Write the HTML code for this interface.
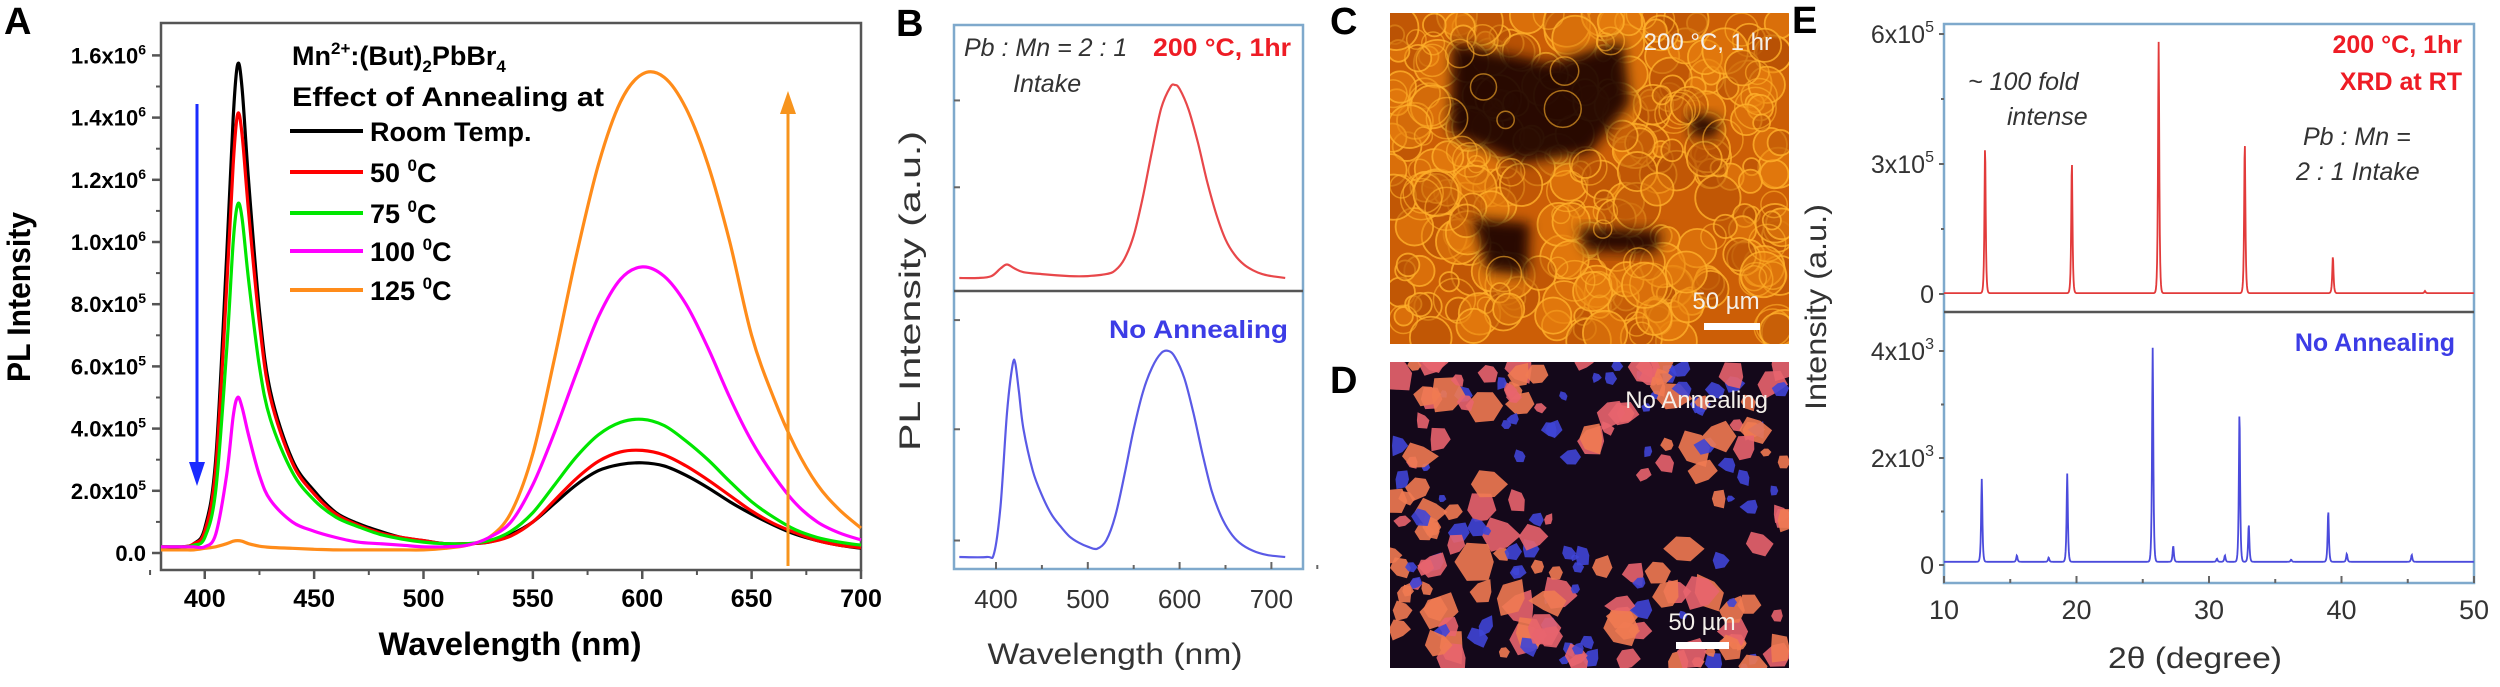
<!DOCTYPE html>
<html><head><meta charset="utf-8"><style>
html,body{margin:0;padding:0;background:#fff;}
svg{display:block;}
.bf{font-family:"Liberation Sans",sans-serif;font-weight:bold;}
.nf{font-family:"Liberation Sans",sans-serif;}
</style></head><body>
<svg id="fig" width="2500" height="687" viewBox="0 0 2500 687" xmlns="http://www.w3.org/2000/svg">
<rect x="0" y="0" width="2500" height="687" fill="#fff"/>
<!-- Panel A -->
<g id="panelA">
<text class="bf" x="4" y="34" font-size="38">A</text>
<rect x="161" y="23" width="700" height="547" fill="none" stroke="#555" stroke-width="2.5"/>
<g id="aTicks"></g>
<g id="aCurves"></g>
<text class="bf" x="510" y="655" font-size="32" text-anchor="middle" textLength="263" lengthAdjust="spacingAndGlyphs">Wavelength (nm)</text>
<text class="bf" font-size="32" text-anchor="middle" transform="translate(30,297) rotate(-90)" textLength="170" lengthAdjust="spacingAndGlyphs">PL Intensity</text>
<g>
<text class="bf" x="292" y="65" font-size="27">Mn<tspan font-size="17" dy="-11">2+</tspan><tspan dy="11">:(But)</tspan><tspan font-size="17" dy="7">2</tspan><tspan dy="-7">PbBr</tspan><tspan font-size="17" dy="7">4</tspan></text>
<text class="bf" x="292" y="106" font-size="27" textLength="312" lengthAdjust="spacingAndGlyphs">Effect of Annealing at</text>
<line x1="290" y1="131" x2="363" y2="131" stroke="#000" stroke-width="4"/>
<text class="bf" x="370" y="141" font-size="27">Room Temp.</text>
<line x1="290" y1="172" x2="363" y2="172" stroke="#ff0000" stroke-width="4"/>
<text class="bf" x="370" y="182" font-size="27">50 <tspan font-size="17" dy="-11">0</tspan><tspan dy="11">C</tspan></text>
<line x1="290" y1="213" x2="363" y2="213" stroke="#00e600" stroke-width="4"/>
<text class="bf" x="370" y="223" font-size="27">75 <tspan font-size="17" dy="-11">0</tspan><tspan dy="11">C</tspan></text>
<line x1="290" y1="251" x2="363" y2="251" stroke="#ff00ff" stroke-width="4"/>
<text class="bf" x="370" y="261" font-size="27">100 <tspan font-size="17" dy="-11">0</tspan><tspan dy="11">C</tspan></text>
<line x1="290" y1="290" x2="363" y2="290" stroke="#ff8c1a" stroke-width="4"/>
<text class="bf" x="370" y="300" font-size="27">125 <tspan font-size="17" dy="-11">0</tspan><tspan dy="11">C</tspan></text>
</g>
<g>
<line x1="197" y1="104" x2="197" y2="466" stroke="#1a2bff" stroke-width="3"/>
<polygon points="189,462 205,462 197,486" fill="#1a2bff"/>
</g>
<g>
<line x1="788" y1="110" x2="788" y2="566" stroke="#f7941d" stroke-width="3"/>
<polygon points="780,114 796,114 788,91" fill="#f7941d"/>
</g>
</g>
<!-- Panel B -->
<g id="panelB">
<text class="bf" x="896" y="36" font-size="38">B</text>
<rect x="954" y="25" width="349" height="544" fill="none" stroke="#7fa9cc" stroke-width="2.5"/>
<line x1="954" y1="291" x2="1303" y2="291" stroke="#555" stroke-width="2.5"/>
<g id="bTicks"></g>
<g id="bCurves"></g>
<text class="nf" x="964" y="56" font-size="25" font-style="italic" fill="#333">Pb : Mn = 2 : 1</text>
<text class="bf" x="1153" y="56" font-size="25" fill="#ee1c25" textLength="138" lengthAdjust="spacingAndGlyphs">200 °C, 1hr</text>
<text class="nf" x="1013" y="92" font-size="25" font-style="italic" fill="#333">Intake</text>
<text class="bf" x="1109" y="338" font-size="25" fill="#3c3ce6" textLength="179" lengthAdjust="spacingAndGlyphs">No Annealing</text>
<text class="nf" x="1115" y="664" font-size="30" fill="#333" text-anchor="middle" textLength="255" lengthAdjust="spacingAndGlyphs">Wavelength (nm)</text>
<text class="nf" font-size="30" fill="#333" text-anchor="middle" transform="translate(920,291) rotate(-90)" textLength="320" lengthAdjust="spacingAndGlyphs">PL Intensity (a.u.)</text>
</g>
<!-- Panels C, D -->
<text class="bf" x="1330" y="34" font-size="38">C</text>
<text class="bf" x="1330" y="393" font-size="38">D</text>
<defs>
<clipPath id="clipC"><rect x="1390" y="13" width="399" height="331"/></clipPath>
<clipPath id="clipD"><rect x="1390" y="362" width="399" height="306"/></clipPath>
<filter id="blur1" x="-30%" y="-30%" width="160%" height="160%"><feGaussianBlur stdDeviation="6"/></filter>
</defs>
<g id="imgC" clip-path="url(#clipC)"><rect x="1390" y="13" width="399" height="331" fill="#cc5e06"/></g>
<g id="imgD" clip-path="url(#clipD)"><rect x="1390" y="362" width="399" height="306" fill="#14081a"/></g>
<text class="nf" x="1772" y="50" font-size="24" fill="#f4f0ea" text-anchor="end">200 °C, 1 hr</text>
<text class="nf" x="1726" y="309" font-size="24" fill="#f4f0ea" text-anchor="middle">50 µm</text>
<rect x="1704" y="323" width="56" height="7" fill="#fff"/>
<text class="nf" x="1768" y="408" font-size="24" fill="#f4f0ea" text-anchor="end">No Annealing</text>
<text class="nf" x="1702" y="630" font-size="24" fill="#f4f0ea" text-anchor="middle">50 µm</text>
<rect x="1676" y="642" width="53" height="7" fill="#fff"/>
<!-- Panel E -->
<g id="panelE">
<text class="bf" x="1792" y="33" font-size="38">E</text>
<rect x="1944" y="24" width="530" height="559" fill="none" stroke="#7fa9cc" stroke-width="2.5"/>
<line x1="1944" y1="312" x2="2474" y2="312" stroke="#555" stroke-width="2.5"/>
<g id="eTicks"></g>
<g id="eCurves"></g>
<text class="nf" x="1968" y="90" font-size="25" font-style="italic" fill="#333">~ 100 fold</text>
<text class="nf" x="2007" y="125" font-size="25" font-style="italic" fill="#333">intense</text>
<text class="bf" x="2462" y="53" font-size="25" fill="#ee1c25" text-anchor="end">200 °C, 1hr</text>
<text class="bf" x="2462" y="90" font-size="25" fill="#ee1c25" text-anchor="end">XRD at RT</text>
<text class="nf" x="2303" y="145" font-size="25" font-style="italic" fill="#333">Pb : Mn =</text>
<text class="nf" x="2296" y="180" font-size="25" font-style="italic" fill="#333">2 : 1 Intake</text>
<text class="bf" x="2455" y="351" font-size="25" fill="#3c3ce6" text-anchor="end">No Annealing</text>
<text class="nf" x="2195" y="668" font-size="30" fill="#333" text-anchor="middle" textLength="174" lengthAdjust="spacingAndGlyphs">2θ (degree)</text>
<text class="nf" font-size="30" fill="#333" text-anchor="middle" transform="translate(1826,307) rotate(-90)" textLength="206" lengthAdjust="spacingAndGlyphs">Intensity (a.u.)</text>
</g>
</svg>
<script>
// ---------- Panel A data (intensity in units of 1e5) ----------
const wlA = [380,390,395,400,405,410,413,415,417,420,425,430,440,450,460,470,480,490,500,510,520,530,540,550,560,570,580,590,600,610,620,630,640,650,660,670,680,690,700];
const aRoomTemp = [0.2,0.2,0.3,0.8,3.0,9.5,14.0,15.7,15.0,12.0,7.8,5.2,3.0,2.0,1.3,0.95,0.7,0.5,0.4,0.3,0.3,0.35,0.6,1.0,1.6,2.2,2.65,2.85,2.9,2.8,2.5,2.1,1.65,1.25,0.9,0.6,0.4,0.25,0.15];
const a50C = [0.2,0.2,0.3,0.7,2.7,8.5,12.5,14.1,13.5,11.0,7.4,5.0,2.9,1.9,1.25,0.9,0.65,0.5,0.4,0.3,0.3,0.35,0.55,1.0,1.7,2.4,2.95,3.25,3.3,3.15,2.8,2.35,1.85,1.35,0.95,0.65,0.4,0.25,0.17];
const a75C = [0.2,0.2,0.25,0.5,2.0,6.5,10.0,11.2,10.8,8.8,6.0,4.3,2.6,1.7,1.15,0.85,0.6,0.45,0.35,0.3,0.3,0.4,0.7,1.3,2.2,3.1,3.8,4.2,4.3,4.1,3.6,3.0,2.3,1.65,1.15,0.75,0.5,0.35,0.25];
const a100C = [0.2,0.2,0.2,0.2,0.6,2.5,4.4,5.0,4.7,3.8,2.5,1.7,1.0,0.7,0.5,0.35,0.3,0.25,0.2,0.2,0.25,0.5,1.0,2.2,3.9,5.8,7.6,8.8,9.2,8.9,8.0,6.6,5.0,3.6,2.5,1.6,1.0,0.65,0.42];
const a125C = [0.1,0.1,0.1,0.15,0.2,0.3,0.38,0.4,0.38,0.3,0.22,0.18,0.15,0.12,0.1,0.1,0.1,0.1,0.1,0.15,0.25,0.5,1.3,3.2,6.3,9.6,12.5,14.5,15.4,15.3,14.3,12.5,10.0,7.0,5.0,3.4,2.2,1.4,0.8];
const aXTicks = [400,450,500,550,600,650,700];
const aYTicks = [0,2,4,6,8,10,12,14,16];
const aYTickLabels = ["0.0","2.0x10|5","4.0x10|5","6.0x10|5","8.0x10|5","1.0x10|6","1.2x10|6","1.4x10|6","1.6x10|6"];
// ---------- Panel B data (normalized) ----------
const wlBTop = [360,380,395,405,412,420,430,450,480,500,520,530,540,550,560,570,580,590,595,600,610,620,630,640,650,660,670,680,690,700,715];
const bAnnealed = [0,0,0.01,0.05,0.07,0.05,0.03,0.02,0.01,0.01,0.02,0.04,0.1,0.22,0.42,0.66,0.88,0.99,1.0,0.98,0.87,0.7,0.5,0.33,0.2,0.12,0.07,0.04,0.02,0.01,0];
const wlBBot = [360,390,398,405,412,418,421,425,430,440,450,460,470,480,490,500,510,520,530,540,550,560,570,580,588,595,605,615,625,635,645,655,665,680,695,715];
const bNoAnneal = [0,0,0.02,0.25,0.7,0.93,0.94,0.8,0.62,0.42,0.3,0.21,0.15,0.1,0.07,0.05,0.04,0.08,0.2,0.4,0.62,0.8,0.92,0.99,1.0,0.97,0.87,0.7,0.5,0.32,0.2,0.12,0.07,0.03,0.01,0];
const bXTicks = [400,500,600,700];
// ---------- Panel E data ----------
const eAnnealPos = [13.1,19.65,26.2,32.7,39.35,46.3];
const eAnnealHeight = [3.4,3.05,5.8,3.5,0.85,0.05]; // x1e5
const eRawPos = [12.85,15.5,17.9,19.3,25.75,27.3,30.6,31.2,32.3,33.0,36.2,39.0,40.4,45.3];
const eRawHeight = [1.55,0.12,0.08,1.65,4.0,0.3,0.06,0.12,2.8,0.7,0.04,0.95,0.15,0.13]; // x1e3
const eXTicks = [10,20,30,40,50];
const eTopTicks = [0,3,6];
const eBotTicks = [0,2,4];

const NS = "http://www.w3.org/2000/svg";
function mk(tag, attrs, parent){ const e=document.createElementNS(NS,tag); for(const k in attrs) e.setAttribute(k,attrs[k]); parent.appendChild(e); return e; }
function smooth(pts){
  let d="M"+pts[0][0].toFixed(1)+","+pts[0][1].toFixed(1);
  for(let i=0;i<pts.length-1;i++){
    const p0=pts[Math.max(0,i-1)],p1=pts[i],p2=pts[i+1],p3=pts[Math.min(pts.length-1,i+2)];
    const c1x=p1[0]+(p2[0]-p0[0])/6,c1y=p1[1]+(p2[1]-p0[1])/6;
    const c2x=p2[0]-(p3[0]-p1[0])/6,c2y=p2[1]-(p3[1]-p1[1])/6;
    d+=" C"+c1x.toFixed(1)+","+c1y.toFixed(1)+" "+c2x.toFixed(1)+","+c2y.toFixed(1)+" "+p2[0].toFixed(1)+","+p2[1].toFixed(1);
  }
  return d;
}
// ---------- Panel A ----------
const xA = v => 161 + (v-380)*700/320;
const yA = v => 553 - v*31.1;
const aT = document.getElementById("aTicks");
aXTicks.forEach(t=>{
  const l=mk("line",{x1:xA(t),y1:570,x2:xA(t),y2:579,stroke:"#555","stroke-width":2.5},aT);
  
  
  const m=mk("line",{x1:xA(t-25),y1:570,x2:xA(t-25),y2:575,stroke:"#555","stroke-width":2},aT);
  
  
  const tx=mk("text",{x:xA(t),y:607,"text-anchor":"middle","font-size":25,class:"bf"},aT);
  tx.textContent=t;
  
  
});
aYTicks.forEach((t,i)=>{
  const l=mk("line",{x1:152,y1:yA(t),x2:161,y2:yA(t),stroke:"#555","stroke-width":2.5},aT);
  
  
  if(i<aYTicks.length-1){
    const m=mk("line",{x1:156,y1:yA(t+1),x2:161,y2:yA(t+1),stroke:"#555","stroke-width":2},aT);
    
    
  }
  const tx=mk("text",{x:146,y:yA(t)+8,"text-anchor":"end","font-size":22,class:"bf"},aT);
  const parts=aYTickLabels[i].split("|");
  if(parts.length>1){
    tx.textContent=parts[0];
    const s=mk("tspan",{"font-size":14,dy:-9},tx); s.textContent=parts[1];
  } else tx.textContent=parts[0];
  
  
});
const aC=document.getElementById("aCurves");
[[a125C,"#ff8c1a","series-125c"],[aRoomTemp,"#000","series-room-temp"],[a50C,"#ff0000","series-50c"],[a75C,"#00e600","series-75c"],[a100C,"#ff00ff","series-100c"]].forEach(([arr,col,name])=>{
  const pts=wlA.map((w,i)=>[xA(w),yA(arr[i])]);
  const p=mk("path",{d:smooth(pts),fill:"none",stroke:col,"stroke-width":3.2,"stroke-linejoin":"round"},aC);
  
  
});
// ---------- Panel B ----------
const xB = v => 996 + (v-400)*0.918;
const yBTop = v => 278 - v*193;
const yBBot = v => 557 - v*206;
const bT=document.getElementById("bTicks");
bXTicks.forEach(t=>{
  const l=mk("line",{x1:xB(t),y1:569,x2:xB(t),y2:562,stroke:"#666","stroke-width":2},bT);
  
  
  const m=mk("line",{x1:xB(t+50),y1:569,x2:xB(t+50),y2:565,stroke:"#666","stroke-width":2},bT);
  
  
  const tx=mk("text",{x:xB(t),y:608,"text-anchor":"middle","font-size":26,class:"nf",fill:"#333"},bT);
  tx.textContent=t;
  
  
});
[0.9,0.45].forEach(v=>{
  const l=mk("line",{x1:954,y1:yBTop(v)+(-0.02*193),x2:960,y2:yBTop(v)+(-0.02*193),stroke:"#666","stroke-width":2},bT);
  
  
});
[1.15,0.62,0.08].forEach(v=>{
  const l=mk("line",{x1:954,y1:yBBot(v),x2:960,y2:yBBot(v),stroke:"#666","stroke-width":2},bT);
  
  
});
const bC=document.getElementById("bCurves");
const pB1=mk("path",{d:smooth(wlBTop.map((w,i)=>[xB(w),yBTop(bAnnealed[i])])),fill:"none",stroke:"#e8474a","stroke-width":2.2},bC);


const pB2=mk("path",{d:smooth(wlBBot.map((w,i)=>[xB(w),yBBot(bNoAnneal[i])])),fill:"none",stroke:"#5a5ae6","stroke-width":2.2},bC);


// ---------- Panel E ----------
const xE = v => 1944 + (v-10)*13.25;
const yETop = v => 294 - v*43.33;
const yEBot = v => 565 - v*53.5;
const eT=document.getElementById("eTicks");
eXTicks.forEach(t=>{
  const l=mk("line",{x1:xE(t),y1:583,x2:xE(t),y2:576,stroke:"#666","stroke-width":2},eT);
  
  
  if(t<50){
    const m=mk("line",{x1:xE(t+5),y1:583,x2:xE(t+5),y2:579,stroke:"#666","stroke-width":2},eT);
    
    
  }
  const tx=mk("text",{x:xE(t),y:619,"text-anchor":"middle","font-size":27,class:"nf",fill:"#333"},eT);
  tx.textContent=t;
  
  
});
function eYLabel(y,base,exp,name){
  const l=mk("line",{x1:1939,y1:y,x2:1944,y2:y,stroke:"#666","stroke-width":2},eT);
  
  
  const tx=mk("text",{x:1934,y:y+9,"text-anchor":"end","font-size":25,class:"nf",fill:"#333"},eT);
  tx.textContent=base;
  if(exp){ const s=mk("tspan",{"font-size":16,dy:-11},tx); s.textContent=exp; }
  
  
}
eTopTicks.forEach(t=>eYLabel(yETop(t), t===0?"0":t+"x10", t===0?"":"5", 'panel-e-top-y'));
eBotTicks.forEach(t=>eYLabel(yEBot(t), t===0?"0":t+"x10", t===0?"":"3", 'panel-e-bottom-y'));
[1.5,4.5].forEach(t=>{ const l=mk("line",{x1:1941,y1:yETop(t),x2:1944,y2:yETop(t),stroke:"#666","stroke-width":2},eT);
  
   });
[1,3].forEach(t=>{ const l=mk("line",{x1:1941,y1:yEBot(t),x2:1944,y2:yEBot(t),stroke:"#666","stroke-width":2},eT);
  
   });
function profile(pos,h,base,w,x){
  let s=base;
  for(let i=0;i<pos.length;i++){ const d=(x-pos[i])/w; s+=h[i]/(1+d*d*4)*Math.exp(-d*d*0.5); }
  return s;
}
const eC=document.getElementById("eCurves");
let d1="",d2="";
for(let x=10;x<=50.001;x+=0.03){
  const v1=profile(eAnnealPos,eAnnealHeight,0.02,0.12,x);
  const v2=profile(eRawPos,eRawHeight,0.06,0.12,x);
  d1+=(d1?"L":"M")+xE(x).toFixed(2)+","+yETop(v1).toFixed(2);
  d2+=(d2?"L":"M")+xE(x).toFixed(2)+","+yEBot(v2).toFixed(2);
}
const pE1=mk("path",{d:d1,fill:"none",stroke:"#e23a3a","stroke-width":1.8},eC);


const pE2=mk("path",{d:d2,fill:"none",stroke:"#4b4bdc","stroke-width":1.8},eC);


// ---------- Micrograph textures (decorative) ----------
let seed=12345;
function rnd(){ seed=(seed*1103515245+12345)%2147483648; return seed/2147483648; }
const gC=document.getElementById("imgC");
for(let i=0;i<260;i++){
  const cx=1390+rnd()*399, cy=13+rnd()*331, r=8+rnd()*16;
  const c=mk("circle",{cx:cx,cy:cy,r:r,fill:rnd()<0.5?"#e8800e":"#b65004","fill-opacity":0.5,stroke:"#ffb02a","stroke-width":1.8,"stroke-opacity":0.8},gC);
  
  
}
const darkC=[[1390+63,13+30,1390+160,13+50,1390+233,13+28,1390+240,13+90,1390+200,13+140,1390+130,13+150,1390+60,13+120],
 [1390+82,13+205,1390+140,13+210,1390+138,13+262,1390+98,13+258],
 [1390+188,13+214,1390+272,13+218,1390+266,13+240,1390+195,13+238],
 [1390+300,13+100,1390+330,13+105,1390+325,13+125,1390+300,13+122]];
darkC.forEach(p=>{
  const pts=[]; for(let i=0;i<p.length;i+=2) pts.push(p[i]+","+p[i+1]);
  const g=mk("polygon",{points:pts.join(" "),fill:"#1a0600","fill-opacity":0.9,filter:"url(#blur1)"},gC);
  
  
});
for(let i=0;i<60;i++){
  const cx=1390+rnd()*399, cy=13+rnd()*331, r=8+rnd()*14;
  const c=mk("circle",{cx:cx,cy:cy,r:r,fill:"none",stroke:"#ffb02a","stroke-width":1.5,"stroke-opacity":0.6},gC);
  
  
}
const gD=document.getElementById("imgD");
function inDarkBand(x,y){
  const lx=x-1390, ly=y-362;
  const c=70+lx*0.35; return Math.abs(ly-c)<45 && lx>40;
}
for(let i=0;i<260;i++){
  const cx=1390+rnd()*399, cy=362+rnd()*306;
  if(inDarkBand(cx,cy) && rnd()<0.85) continue;
  const blue=rnd()<0.3;
  const r=blue?4+rnd()*7:6+rnd()*14;
  const n=6, pts=[];
  for(let k=0;k<n;k++){ const a=k/n*Math.PI*2; const rr=r*(0.6+rnd()*0.6); pts.push((cx+Math.cos(a)*rr).toFixed(1)+","+(cy+Math.sin(a)*rr).toFixed(1)); }
  const col=blue?"#3f45d6":(rnd()<0.5?"#e8646e":"#f07a52");
  const b=mk("polygon",{points:pts.join(" "),fill:col,"fill-opacity":0.9},gD);
  
  
}
</script>
</body></html>
